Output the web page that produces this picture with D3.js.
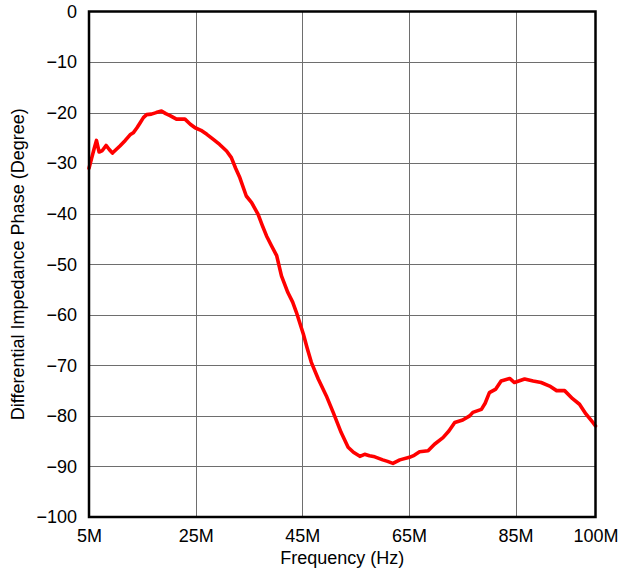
<!DOCTYPE html>
<html><head><meta charset="utf-8">
<script src="https://cdn.jsdelivr.net/npm/d3@7"></script>
<style>body{margin:0;background:#fff}svg{display:block}text{font-family:"Liberation Sans",Arial,sans-serif;fill:#000}</style>
</head><body><svg id="c" width="619" height="571"></svg>
<script>
const freqMHz = [5.0,5.5,6.0,6.4,6.9,7.5,8.2,8.8,9.4,10.2,10.8,11.8,12.7,13.3,14.0,14.6,15.2,15.8,16.7,17.6,18.6,19.4,20.2,21.4,23.0,24.0,24.9,26.0,27.1,28.2,29.5,30.8,31.7,32.5,33.3,34.5,35.5,36.7,37.5,38.3,39.2,40.2,41.1,42.3,43.2,43.9,45.2,45.9,46.7,48.0,49.5,50.8,52.3,53.6,54.6,55.8,56.7,57.6,58.6,60.1,61.0,62.0,63.3,65.1,66.0,67.0,68.6,69.8,71.4,72.5,73.6,75.1,76.4,77.0,78.6,79.3,80.1,81.3,82.3,83.9,84.8,86.7,88.3,89.8,91.4,92.7,94.2,95.7,97.0,98.2,99.5,100];
const phaseDeg = [-31.0,-29.0,-27.0,-25.5,-27.8,-27.5,-26.5,-27.3,-28.0,-27.2,-26.6,-25.5,-24.4,-24.0,-23.0,-22.0,-21.0,-20.4,-20.3,-20.0,-19.7,-20.2,-20.6,-21.3,-21.3,-22.3,-23.0,-23.5,-24.3,-25.2,-26.3,-27.6,-28.9,-31.0,-32.9,-36.5,-37.8,-40.1,-42.3,-44.4,-46.3,-48.3,-52.3,-55.6,-57.5,-59.5,-63.8,-66.5,-69.4,-72.7,-76.0,-79.3,-83.3,-86.2,-87.2,-88.0,-87.6,-87.9,-88.1,-88.7,-89.0,-89.4,-88.7,-88.2,-87.8,-87.1,-86.9,-85.6,-84.3,-83.0,-81.3,-80.8,-80.0,-79.3,-78.7,-77.5,-75.4,-74.7,-73.1,-72.6,-73.4,-72.7,-73.1,-73.4,-74.1,-75.0,-75.0,-76.6,-77.7,-79.6,-81.3,-82.0];
const xTicks = [5,25,45,65,85,100];
const xTickLabels = ["5M","25M","45M","65M","85M","100M"];
const yTicks = [0,-10,-20,-30,-40,-50,-60,-70,-80,-90,-100];
const xTitle = "Frequency (Hz)";
const yTitle = "Differential Impedance Phase (Degree)";

const L=89, R=595.5, T=11.5, B=517;
const FS=18;
const svg = d3.select("#c");
const x = d3.scaleLinear().domain([5,100]).range([L,R]);
const y = d3.scaleLinear().domain([-100,0]).range([B,T]);

// grid
const g = svg.append("g");
g.selectAll("line.vx").data(xTicks.slice(1,-1)).join("line")
  .attr("x1",d=>Math.round(x(d))+0.5).attr("x2",d=>Math.round(x(d))+0.5)
  .attr("y1",T).attr("y2",B).attr("stroke","#6e6e6e").attr("stroke-width",1);
g.selectAll("line.hy").data(yTicks.slice(1,-1)).join("line")
  .attr("y1",d=>Math.round(y(d))+0.5).attr("y2",d=>Math.round(y(d))+0.5)
  .attr("x1",L).attr("x2",R).attr("stroke","#6e6e6e").attr("stroke-width",1);

// axes (labels only)
const xAxis = d3.axisBottom(x).tickValues(xTicks).tickSize(0).tickPadding(12)
  .tickFormat((d,i)=>xTickLabels[i]);
const xa = svg.append("g").attr("transform",`translate(0,${B})`).call(xAxis);
xa.select(".domain").remove();
xa.selectAll("text").attr("font-size",FS).attr("font-family","Liberation Sans, Arial, sans-serif").attr("fill","#000");

const yAxis = d3.axisLeft(y).tickValues(yTicks).tickSize(0).tickPadding(12)
  .tickFormat(d=> d<0 ? "\u2212"+Math.abs(d) : String(d));
const ya = svg.append("g").attr("transform",`translate(${L},0)`).call(yAxis);
ya.select(".domain").remove();
ya.selectAll("text").attr("font-size",FS).attr("font-family","Liberation Sans, Arial, sans-serif").attr("fill","#000");

// curve
const line = d3.line().x((d,i)=>x(freqMHz[i])).y(d=>y(d)).curve(d3.curveLinear);
svg.append("path").datum(phaseDeg).attr("d",line)
  .attr("fill","none").attr("stroke","#ff0000").attr("stroke-width",3.6)
  .attr("stroke-linejoin","round").attr("stroke-linecap","round");

// frame
svg.append("rect").attr("x",L).attr("y",T).attr("width",R-L).attr("height",B-T)
  .attr("fill","none").attr("stroke","#000").attr("stroke-width",2.5);

// titles
svg.append("text").attr("x",(L+R)/2).attr("y",564).attr("text-anchor","middle")
  .attr("font-size",FS).text(xTitle);
svg.append("text").attr("transform",`translate(24,${(T+B)/2}) rotate(-90)`)
  .attr("text-anchor","middle").attr("font-size",FS).text(yTitle);
</script></body></html>
